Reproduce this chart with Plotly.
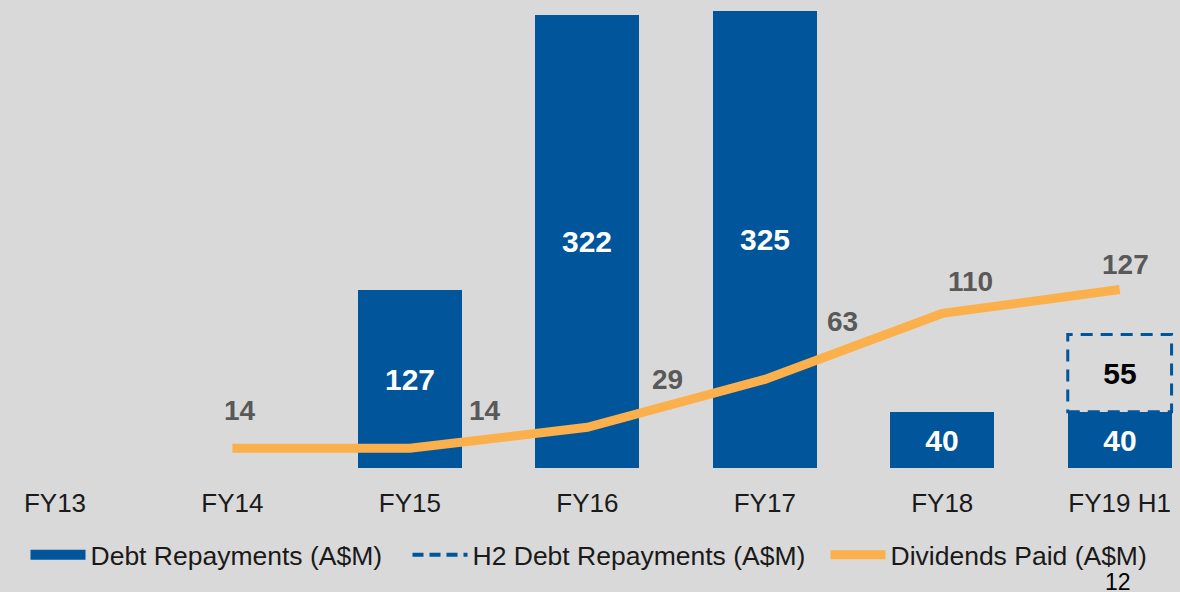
import plotly.graph_objects as go

categories = ["FY13", "FY14", "FY15", "FY16", "FY17", "FY18", "FY19 H1"]
debt_repayments = [None, None, 127, 322, 325, 40, 40]
h2_debt_repayments = [None, None, None, None, None, None, 55]
dividends_paid = [None, 14, 14, 29, 63, 110, 127]
page_number = "12"

BLUE = "#00559b"
ORANGE = "#fbb04b"
GRAY_TXT = "#595959"
BG = "#d9d9d9"
FONT = "Liberation Sans, Arial, sans-serif"
BAR_W = 0.585

# label offsets (pixels) for the dividend labels
div_label_shift = [None, (8, 38), (75, 38), (80, 48), (78, 58), (28, 32), (6, 25)]

fig = go.Figure()

fig.add_trace(go.Bar(
    x=categories, y=debt_repayments, width=BAR_W,
    marker=dict(color=BLUE, line=dict(width=0)),
    text=[f"<b>{v}</b>" if v is not None else "" for v in debt_repayments],
    textposition="inside", insidetextanchor="middle",
    textfont=dict(color="white", size=30, family=FONT),
    showlegend=False, hoverinfo="skip",
))
fig.add_trace(go.Bar(
    x=categories, y=h2_debt_repayments, width=BAR_W,
    marker=dict(color="rgba(0,0,0,0)", line=dict(width=0)),
    text=[f"<b>{v}</b>" if v is not None else "" for v in h2_debt_repayments],
    textposition="inside", insidetextanchor="middle",
    textfont=dict(color="black", size=30, family=FONT),
    showlegend=False, hoverinfo="skip",
))

# legend proxies for the bar series
fig.add_trace(go.Scatter(x=[None], y=[None], mode="lines", name="Debt Repayments (A$M)",
                         line=dict(color=BLUE, width=14), legend="legend"))
fig.add_trace(go.Scatter(x=[None], y=[None], mode="lines", name="H2 Debt Repayments (A$M)",
                         line=dict(color=BLUE, width=4, dash="11px,6px"), legend="legend2"))

fig.add_trace(go.Scatter(
    x=categories, y=dividends_paid, mode="lines", name="Dividends Paid (A$M)",
    line=dict(color=ORANGE, width=9), legend="legend3", connectgaps=False,
))

# dashed outline for H2 stacked segment
for i, (b, h) in enumerate(zip(debt_repayments, h2_debt_repayments)):
    if h is None:
        continue
    base = b or 0
    fig.add_shape(type="rect", xref="x", yref="y",
                  x0=i - BAR_W / 2, x1=i + BAR_W / 2, y0=base, y1=base + h,
                  line=dict(color=BLUE, width=3, dash="12px,8px"), fillcolor="rgba(0,0,0,0)")

for i, v in enumerate(dividends_paid):
    if v is None:
        continue
    dx, dy = div_label_shift[i]
    fig.add_annotation(x=categories[i], y=v, text=f"<b>{v}</b>", showarrow=False,
                       xshift=dx, yshift=dy,
                       font=dict(color=GRAY_TXT, size=28, family=FONT))

fig.add_annotation(xref="paper", yref="paper", x=1118 / 1180, y=-(582 - 468) / 468,
                   text=page_number, showarrow=False, xanchor="center", yanchor="middle",
                   font=dict(color="black", size=23, family=FONT))

legend_common = dict(orientation="h", xanchor="left", y=-(555 - 468) / 468, yanchor="middle",
                     font=dict(size=26.5, color="#1a1a1a", family=FONT), itemwidth=55,
                     bgcolor="rgba(0,0,0,0)")

fig.update_layout(
    width=1180, height=592,
    margin=dict(l=0, r=0, t=0, b=124, pad=0),
    paper_bgcolor=BG, plot_bgcolor=BG,
    barmode="stack", bargap=0,
    font=dict(family=FONT, color="#1a1a1a"),
    xaxis=dict(type="category", categoryorder="array", categoryarray=categories,
               range=[-0.31, 6.34], showgrid=False, zeroline=False, showline=False,
               ticks="", tickfont=dict(size=26, color="#1a1a1a", family=FONT),
               ticklabelstandoff=17),
    yaxis=dict(range=[0, 333], visible=False, showgrid=False, zeroline=False),
    legend=dict(x=(30 - 4.5) / 1180, **legend_common),
    legend2=dict(x=(412 - 4.5) / 1180, **legend_common),
    legend3=dict(x=(830 - 4.5) / 1180, **legend_common),
    showlegend=True,
)

fig.write_html("out.html", config={"displayModeBar": False},
               post_script="document.body.style.margin='0';document.body.style.overflow='hidden';")
